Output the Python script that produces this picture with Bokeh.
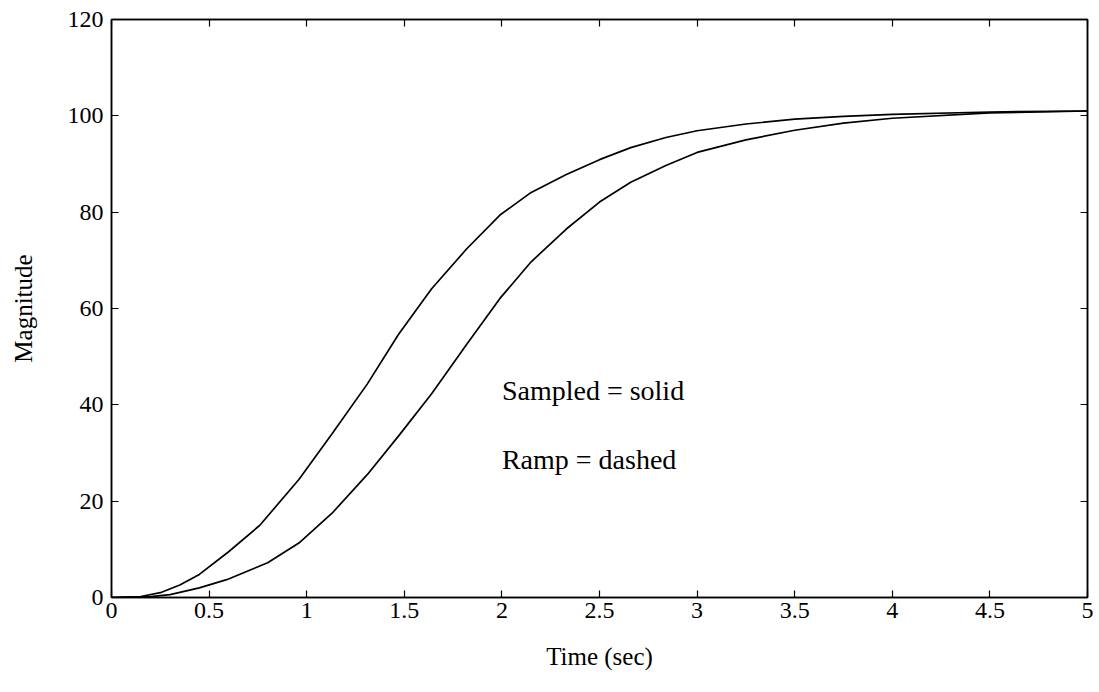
from bokeh.plotting import figure
from bokeh.models import LinearAxis, Range1d, FixedTicker, Label
from bokeh.embed import file_html
from bokeh.resources import INLINE

# Data
t_sampled = [0, 0.15, 0.25, 0.35, 0.45, 0.6, 0.76, 0.96, 1.13, 1.31, 1.47, 1.64, 1.82, 1.99,
             2.15, 2.33, 2.5, 2.66, 2.84, 3.0, 3.25, 3.5, 3.75, 4.0, 4.5, 5.0]
y_sampled = [0, 0.2, 1.0, 2.6, 4.8, 9.5, 15.0, 24.5, 34.0, 44.3, 54.6, 64.1, 72.4, 79.4,
             84.1, 87.8, 90.9, 93.4, 95.5, 96.9, 98.3, 99.3, 99.9, 100.3, 100.8, 101.0]

t_ramp = [0, 0.2, 0.3, 0.45, 0.59, 0.8, 0.96, 1.13, 1.31, 1.47, 1.64, 1.82, 1.99,
          2.15, 2.33, 2.5, 2.66, 2.84, 3.0, 3.25, 3.5, 3.75, 4.0, 4.5, 5.0]
y_ramp = [0, 0.2, 0.6, 2.0, 3.7, 7.2, 11.3, 17.5, 25.5, 33.5, 42.3, 52.6, 62.1,
          69.7, 76.5, 82.1, 86.2, 89.7, 92.4, 95.0, 97.0, 98.5, 99.5, 100.6, 101.0]

x_ticks = [0, 0.5, 1, 1.5, 2, 2.5, 3, 3.5, 4, 4.5, 5]
y_ticks = [0, 20, 40, 60, 80, 100, 120]

FONT = "Liberation Serif"

p = figure(width=1093, height=687, output_backend="svg", toolbar_location=None,
           x_range=Range1d(0, 5), y_range=Range1d(0, 120),
           x_axis_label="Time (sec)", y_axis_label="Magnitude",
           min_border_left=111, min_border_right=6, min_border_top=19, min_border_bottom=90)

p.grid.visible = False
p.outline_line_color = "black"
p.outline_line_width = 1.5
p.background_fill_color = "white"
p.border_fill_color = "white"

p.line(t_sampled, y_sampled, line_color="black", line_width=1.7)
p.line(t_ramp, y_ramp, line_color="black", line_width=1.7)

for ax in p.xaxis:
    ax.ticker = FixedTicker(ticks=x_ticks)
for ax in p.yaxis:
    ax.ticker = FixedTicker(ticks=y_ticks)

for ax in list(p.xaxis) + list(p.yaxis):
    ax.major_tick_in = 7
    ax.major_tick_out = 0
    ax.minor_tick_in = 0
    ax.minor_tick_out = 0
    ax.axis_line_color = "black"
    ax.axis_line_width = 1.5
    ax.major_tick_line_width = 1.2
    ax.major_label_text_font = FONT
    ax.major_label_text_font_size = "24px"
    ax.major_label_text_color = "black"
    ax.axis_label_text_font = FONT
    ax.axis_label_text_font_size = "25px"
    ax.axis_label_text_font_style = "normal"
    ax.axis_label_text_color = "black"

p.xaxis.major_label_standoff = 5
p.yaxis.major_label_standoff = 8
p.xaxis.axis_label_standoff = 22
p.yaxis.axis_label_standoff = 28

# Mirror axes (ticks only) on top and right
top = LinearAxis(ticker=FixedTicker(ticks=x_ticks), major_label_text_font_size="0px",
                 major_tick_in=7, major_tick_out=0, minor_tick_in=0, minor_tick_out=0,
                 axis_line_width=1.5, major_tick_line_width=1.2, major_label_standoff=0)
right = LinearAxis(ticker=FixedTicker(ticks=y_ticks), major_label_text_font_size="0px",
                   major_tick_in=7, major_tick_out=0, minor_tick_in=0, minor_tick_out=0,
                   axis_line_width=1.5, major_tick_line_width=1.2, major_label_standoff=0)
p.add_layout(top, "above")
p.add_layout(right, "right")

p.add_layout(Label(x=2.0, y=43, text="Sampled = solid", text_font=FONT, text_font_size="28px",
                   text_baseline="middle", text_align="left", text_color="black"))
p.add_layout(Label(x=2.0, y=28.7, text="Ramp = dashed", text_font=FONT, text_font_size="28px",
                   text_baseline="middle", text_align="left", text_color="black"))

open("out.html", "w").write(file_html(p, INLINE))
